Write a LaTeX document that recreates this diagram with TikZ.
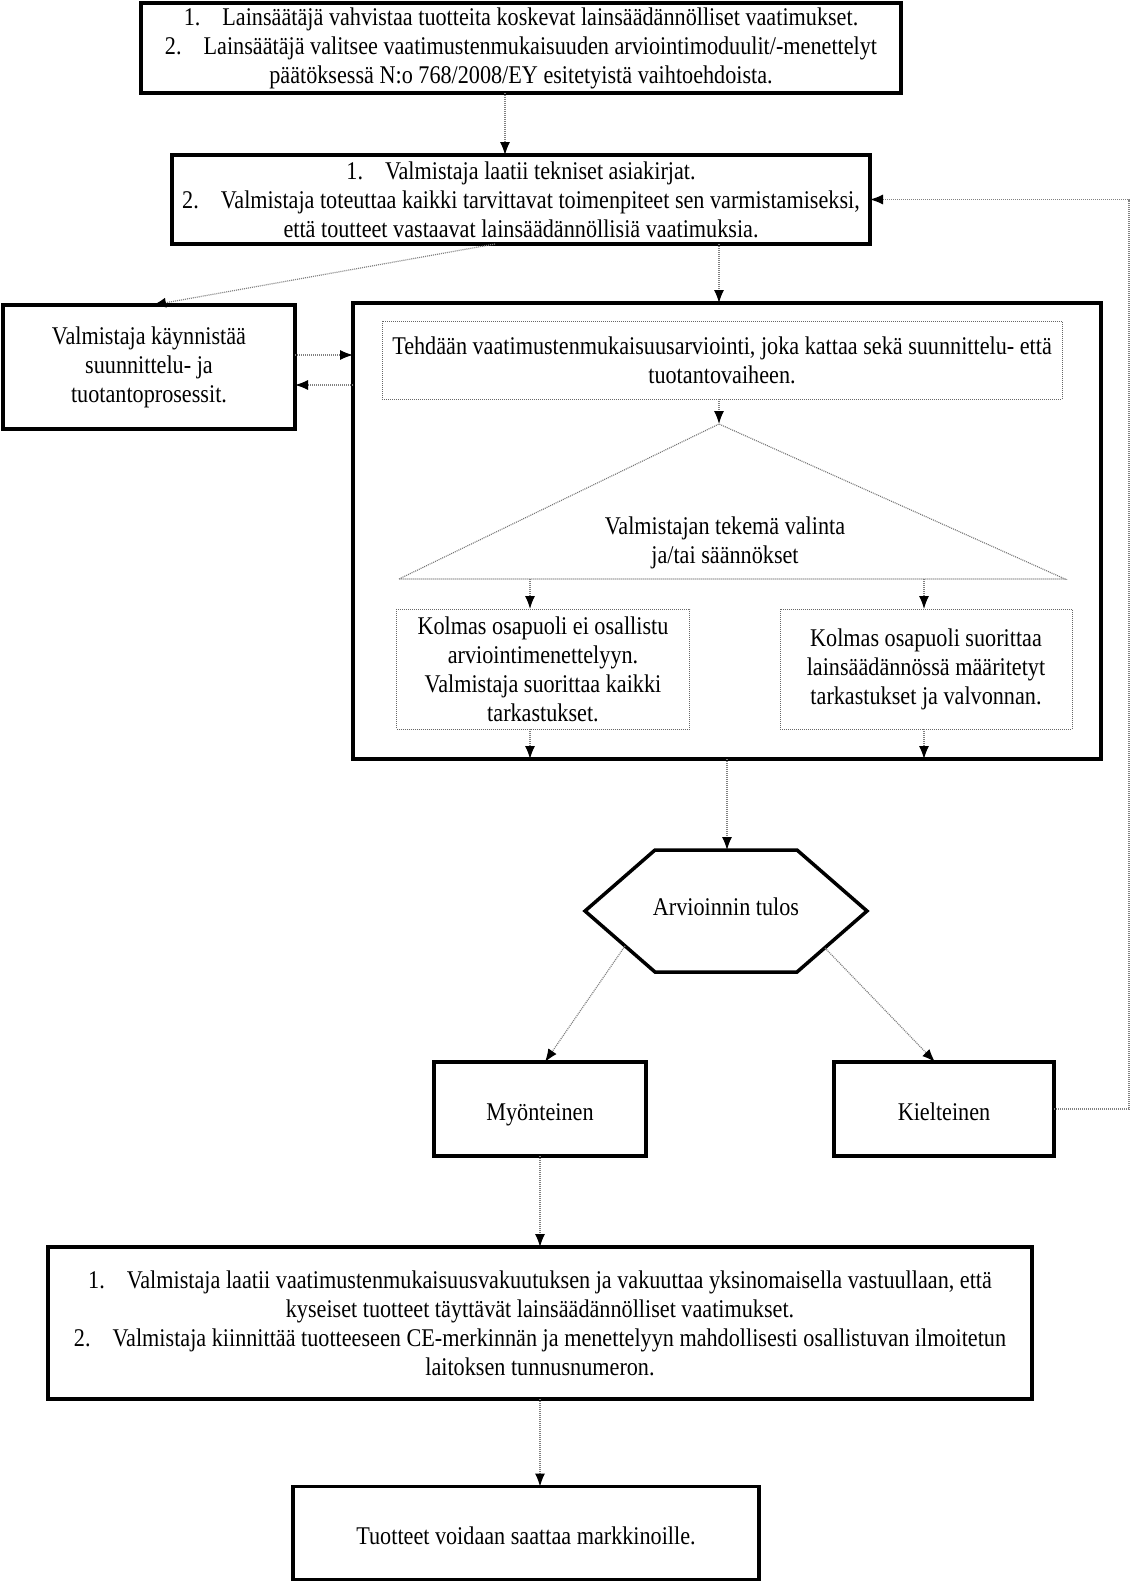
\documentclass[tikz,border=0pt]{standalone}
\usepackage{fontspec}
\setmainfont{Liberation Serif}[FakeStretch=0.87]
\usetikzlibrary{arrows.meta}
\newcommand{\numgap}{\hspace{22pt}}
\begin{document}
\begin{tikzpicture}[x=1pt,y=-1pt,
  txt/.style={align=center,font=\fontsize{25.5}{29}\selectfont,inner sep=0pt,outer sep=0pt},
  thickbox/.style={txt,draw=black,line width=3.5pt,fill=white},
  thinbox/.style={txt,draw=black!60,line width=1pt,dash pattern=on 1pt off 1pt,fill=white},
  conn/.style={draw=black!50,line width=1.2pt,dash pattern=on 1pt off 1pt,-{Latex[black,length=13pt,width=10pt]}},
  guide/.style={draw=black!55,line width=1.1pt,dash pattern=on 1pt off 1pt},
  onetext/.style={text height=29pt,text depth=6pt}]
\useasboundingbox (0,0) rectangle (1139,1583);
\fill[white] (0,0) rectangle (1139,1583);

% main boxes
\node[thickbox,minimum width=760pt,minimum height=90pt] (box1) at (521,48)
 {1.\numgap Lainsäätäjä vahvistaa tuotteita koskevat lainsäädännölliset vaatimukset.\\
  2.\numgap Lainsäätäjä valitsee vaatimustenmukaisuuden arviointimoduulit/-menettelyt\\
  päätöksessä N:o 768/2008/EY esitetyistä vaihtoehdoista.};
\node[thickbox,minimum width=698pt,minimum height=89pt] (box2) at (521,199.5)
 {1.\numgap Valmistaja laatii tekniset asiakirjat.\\
  2.\numgap Valmistaja toteuttaa kaikki tarvittavat toimenpiteet sen varmistamiseksi,\\
  että toutteet vastaavat lainsäädännöllisiä vaatimuksia.};
\node[thickbox,minimum width=292pt,minimum height=124pt] (left) at (149,367)
 {Valmistaja käynnistää\\suunnittelu- ja\\tuotantoprosessit.};
\node[thickbox,minimum width=748pt,minimum height=456pt] (big) at (727,531) {};
\node[thinbox,minimum width=680pt,minimum height=78pt] (inner) at (722,360)
 {Tehdään vaatimustenmukaisuusarviointi, joka kattaa sekä suunnittelu- että\\tuotantovaiheen.};

% triangle
\coordinate (apex) at (719,424);
\coordinate (tbl) at (399,579);
\coordinate (tbr) at (1065,579);
\draw[guide] (tbl) -- (apex) -- (tbr) -- cycle;
\node[txt] (tritext) at (725,543) {Valmistajan tekemä valinta\\ja/tai säännökset};

\node[thinbox,minimum width=293pt,minimum height=120pt] (lsmall) at (543,669)
 {Kolmas osapuoli ei osallistu\\arviointimenettelyyn.\\Valmistaja suorittaa kaikki\\tarkastukset.};
\node[thinbox,minimum width=292pt,minimum height=120pt] (rsmall) at (926,669)
 {Kolmas osapuoli suorittaa\\lainsäädännössä määritetyt\\tarkastukset ja valvonnan.};

% hexagon
\coordinate (h1) at (655,850);
\coordinate (h2) at (797,850);
\coordinate (h3) at (867,911);
\coordinate (h4) at (797,972);
\coordinate (h5) at (655,972);
\coordinate (h6) at (585,911);
\draw[black,line width=3.5pt,line join=miter,fill=white] (h1) -- (h2) -- (h3) -- (h4) -- (h5) -- (h6) -- cycle;
\node[txt,onetext] (hext) at (726,904) {Arvioinnin tulos};
\coordinate (hl) at (625,946);
\coordinate (hr) at (825,948);

\node[thickbox,onetext,minimum width=212pt,minimum height=94pt] (myo) at (540,1109) {Myönteinen};
\node[thickbox,onetext,minimum width=220pt,minimum height=94pt] (kiel) at (944,1109) {Kielteinen};
\node[thickbox,minimum width=984pt,minimum height=152pt] (bottom) at (540,1323)
 {1.\numgap Valmistaja laatii vaatimustenmukaisuusvakuutuksen ja vakuuttaa yksinomaisella vastuullaan, että\\
  kyseiset tuotteet täyttävät lainsäädännölliset vaatimukset.\\
  2.\numgap Valmistaja kiinnittää tuotteeseen CE-merkinnän ja menettelyyn mahdollisesti osallistuvan ilmoitetun\\
  laitoksen tunnusnumeron.};
\node[thickbox,onetext,minimum width=466pt,minimum height=93pt] (final) at (526,1533)
 {Tuotteet voidaan saattaa markkinoille.};

% helper coordinates
\coordinate (x505) at (505,0);
\coordinate (x719) at (719,0);
\coordinate (x727) at (727,0);
\coordinate (x530) at (530,0);
\coordinate (x924) at (924,0);
\coordinate (x540) at (540,0);
\coordinate (x545) at (545,0);
\coordinate (x935) at (935,0);
\coordinate (x495) at (495,0);
\coordinate (x153) at (153,0);
\coordinate (y355) at (0,355);
\coordinate (y385) at (0,385);
\coordinate (fb) at (1129,0);

% connectors
\draw[conn] (box1.south -| x505) -- (box2.north -| x505);
\draw[conn] (box2.south -| x495) -- (left.north -| x153);
\draw[conn] (box2.south -| x719) -- (big.north -| x719);
\draw[conn] (left.east |- y355) -- (big.west |- y355);
\draw[conn] (big.west |- y385) -- (left.east |- y385);
\draw[conn] (inner.south -| x719) -- (apex);
\draw[conn] (tbl -| x530) -- (lsmall.north -| x530);
\draw[conn] (tbl -| x924) -- (rsmall.north -| x924);
\draw[conn] (lsmall.south -| x530) -- (big.south -| x530);
\draw[conn] (rsmall.south -| x924) -- (big.south -| x924);
\draw[conn] (big.south -| x727) -- (h1 -| x727);
\draw[conn] (hl) -- (myo.north -| x545);
\draw[conn] (hr) -- (kiel.north -| x935);
\draw[conn] (myo.south -| x540) -- (bottom.north -| x540);
\draw[conn] (bottom.south -| x540) -- (final.north -| x540);
\draw[conn] (kiel.east) -| (fb |- box2.east) -- (box2.east);
\end{tikzpicture}
\end{document}
